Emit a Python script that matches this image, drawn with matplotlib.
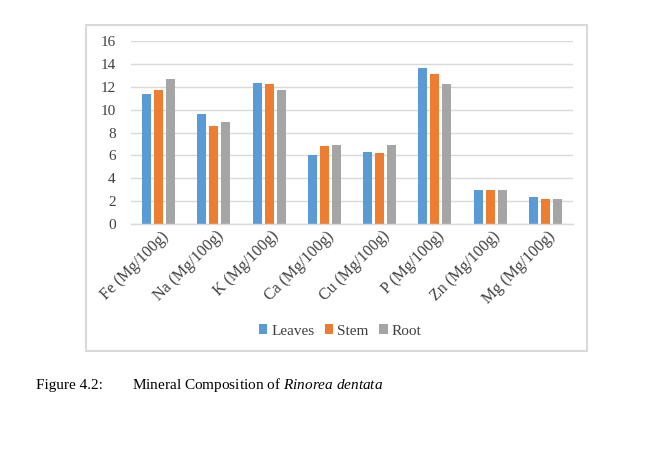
import matplotlib
matplotlib.use("Agg")
import matplotlib.pyplot as plt
from matplotlib.patches import Rectangle
import numpy as np

categories = ["Fe (Mg/100g)", "Na (Mg/100g)", "K (Mg/100g)", "Ca (Mg/100g)",
              "Cu (Mg/100g)", "P (Mg/100g)", "Zn (Mg/100g)", "Mg (Mg/100g)"]
leaves = [11.4, 9.6, 12.3, 6.0, 6.3, 13.6, 3.0, 2.35]
stem = [11.7, 8.6, 12.2, 6.8, 6.2, 13.1, 2.95, 2.2]
root = [12.7, 8.9, 11.7, 6.9, 6.9, 12.2, 2.95, 2.15]
series_names = ["Leaves", "Stem", "Root"]
colors = ["#5B9BD5", "#ED7D31", "#A5A5A5"]
yticks = [0, 2, 4, 6, 8, 10, 12, 14, 16]

plt.rcParams['font.family'] = ['Liberation Serif', 'DejaVu Serif']
plt.rcParams['mathtext.fontset'] = 'custom'
plt.rcParams['mathtext.rm'] = 'Liberation Serif'
plt.rcParams['mathtext.it'] = 'Liberation Serif:italic'

W, H = 670, 474
fig = plt.figure(figsize=(W/100, H/100), dpi=100)
ax = fig.add_axes([131/W, 1-224/H, (573-131)/W, (224-41)/H])

x = np.arange(len(categories))
bw = 0.165
off = 0.218
for i, (vals, name, c) in enumerate(zip([leaves, stem, root], series_names, colors)):
    ax.bar(x + (i-1)*off, vals, width=bw, color=c, label=name, zorder=3)

ax.set_xlim(-0.5, len(categories)-0.5)
ax.set_ylim(0, 16)
ax.set_yticks(yticks)
ax.set_yticklabels([str(v) for v in yticks], fontsize=11, color="#404040")
ax.yaxis.grid(True, color="#D9D9D9", linewidth=1.0, zorder=0)
ax.tick_params(axis='y', length=0, pad=11)
ax.tick_params(axis='x', length=0, pad=3)
ax.set_xticks(x + 0.03)
ax.set_xticklabels(categories, rotation=45, ha='right', va='top',
                   rotation_mode='anchor', fontsize=11.5, color="#404040")
for s in ['top', 'right', 'left']:
    ax.spines[s].set_visible(False)
ax.spines['bottom'].set_color("#D9D9D9")
ax.spines['bottom'].set_linewidth(1.0)
ax.spines['bottom'].set_zorder(4)

fig.legend(loc='center', bbox_to_anchor=(340/W, 1-331/H), ncol=3, frameon=False,
           fontsize=11, handlelength=0.55, handleheight=0.55, handletextpad=0.25,
           columnspacing=0.7, labelcolor="#404040")

fig.patches.append(Rectangle((86/W, 1-351/H), (587-86)/W, (351-25)/H,
                             transform=fig.transFigure, fill=False,
                             edgecolor="#D9D9D9", linewidth=1.5))

fig.text(36/W, 1-385/H, "Figure 4.2:", fontsize=11, va='center', ha='left')
fig.text(132/W, 1-385/H, "Mineral Composition of $\\it{Rinorea\\ dentata}$",
         fontsize=11, va='center', ha='left')

fig.savefig("out.png", dpi=100)
